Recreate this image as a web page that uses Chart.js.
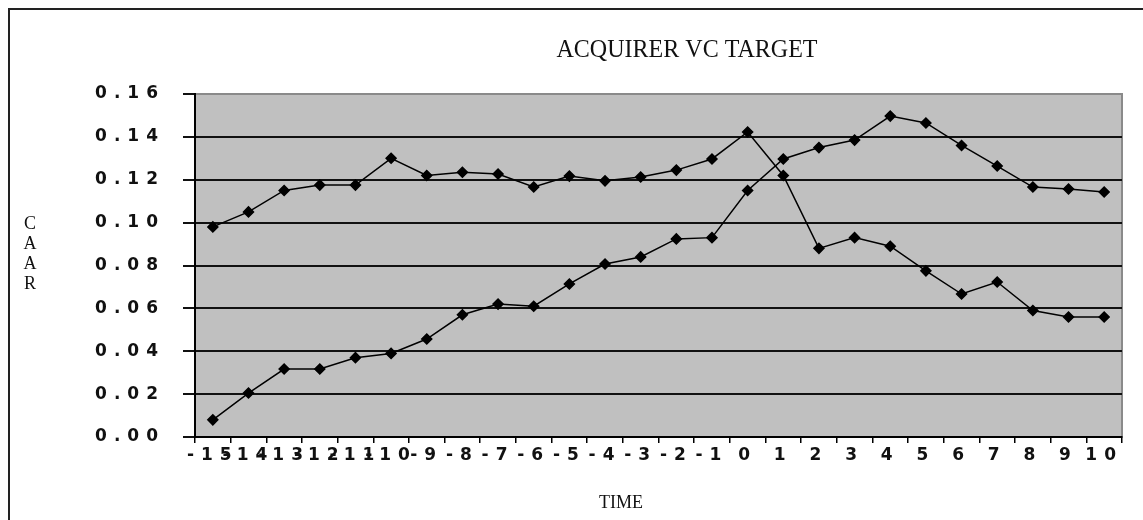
<!DOCTYPE html>
<html>
<head>
<meta charset="utf-8">
<script src="https://cdn.jsdelivr.net/npm/chart.js@4.4.1/dist/chart.umd.min.js"></script>
<style>
  body { margin: 0; background: #fff; }
  #wrap { position: relative; width: 1143px; height: 520px; }
  #frame { position: absolute; left: 8px; top: 8px; right: -4px; bottom: -4px;
           border-top: 2px solid #222; border-left: 2px solid #222; pointer-events: none; }
</style>
</head>
<body>
<div id="wrap">
  <canvas id="caarChart"></canvas>
  <div id="frame"></div>
</div>
<script>
// event window, days around announcement
const times = ['-15', '-14', '-13', '-12', '-11', '-10', '-9', '-8', '-7', '-6', '-5', '-4', '-3',
               '-2', '-1', '0', '1', '2', '3', '4', '5', '6', '7', '8', '9', '10'];

// CAAR, acquirer (starts high, drops after day 0)
const acquirer = [0.098, 0.105, 0.115, 0.1175, 0.1175, 0.130, 0.122, 0.1235, 0.1227, 0.1166,
                  0.1217, 0.1195, 0.1213, 0.1245, 0.1297, 0.1423, 0.122, 0.088, 0.093, 0.089,
                  0.0775, 0.0667, 0.0723, 0.059, 0.056, 0.056];

// CAAR, target (rises through the window)
const target = [0.008, 0.0205, 0.0317, 0.0317, 0.037, 0.039, 0.0457, 0.057, 0.062, 0.061,
                0.0714, 0.0807, 0.084, 0.0924, 0.093, 0.115, 0.1297, 0.135, 0.1385, 0.1497,
                0.1465, 0.136, 0.1264, 0.1166, 0.1157, 0.1143];

const yMin = 0;
const yMax = 0.16;
const yStep = 0.02;

const tickFont = { family: 'DejaVu Sans', size: 17, weight: 'bold' };
const spacing = '7px';

const plotBg = {
  id: 'plotBg',
  beforeDraw(chart) {
    const ctx = chart.ctx;
    const a = chart.chartArea;
    ctx.save();
    ctx.fillStyle = '#fff';
    ctx.fillRect(0, 0, chart.width, chart.height);
    ctx.fillStyle = '#c0c0c0';
    ctx.fillRect(a.left, a.top, a.right - a.left, a.bottom - a.top);
    ctx.strokeStyle = '#8a8a8a';
    ctx.lineWidth = 2;
    ctx.strokeRect(a.left, a.top, a.right - a.left, a.bottom - a.top);
    ctx.restore();
    // wide spaced tick digits like the old spreadsheet export
    ctx.letterSpacing = spacing;
  },
  afterDraw(chart) {
    const ctx = chart.ctx;
    ctx.save();
    ctx.letterSpacing = '0px';
    ctx.fillStyle = '#111';
    ctx.textAlign = 'center';
    ctx.textBaseline = 'alphabetic';
    ctx.font = '26px "Liberation Serif"';
    ctx.fillText('ACQUIRER VC TARGET', 687, 57, 261);
    ctx.font = '18px "Liberation Serif"';
    ctx.fillText('TIME', 621, 508);
    ctx.textBaseline = 'middle';
    ['C', 'A', 'A', 'R'].forEach((ch, i) => ctx.fillText(ch, 30, 224 + i * 20));
    ctx.restore();
    ctx.letterSpacing = spacing;
  }
};

const config = {
  type: 'line',
  data: {
    labels: times,
    datasets: [
      {
        label: 'Acquirer',
        data: acquirer,
        borderColor: '#000',
        backgroundColor: '#000',
        borderWidth: 1.5,
        pointStyle: 'rectRot',
        pointRadius: 5,
        tension: 0
      },
      {
        label: 'Target',
        data: target,
        borderColor: '#000',
        backgroundColor: '#000',
        borderWidth: 1.5,
        pointStyle: 'rectRot',
        pointRadius: 5,
        tension: 0
      }
    ]
  },
  options: {
    responsive: true,
    maintainAspectRatio: false,
    animation: false,
    layout: { padding: { top: 94, right: 21, bottom: 0, left: 0 } },
    plugins: {
      legend: { display: false },
      title: { display: false },
      tooltip: { enabled: false }
    },
    scales: {
      x: {
        offset: true,
        grid: {
          display: true,
          offset: true,
          drawOnChartArea: false,
          tickLength: 6,
          color: '#000',
          lineWidth: 1.5
        },
        border: { color: '#000', width: 2 },
        ticks: {
          autoSkip: false,
          maxRotation: 0,
          minRotation: 0,
          padding: 2,
          color: '#111',
          font: tickFont
        },
        afterFit(scale) { scale.height = 83; }
      },
      y: {
        min: yMin,
        max: yMax,
        grid: {
          color: ctx => (ctx.tick && ctx.tick.value >= yMax - 1e-9 ? '#8a8a8a' : '#111'),
          lineWidth: 2,
          tickLength: 12,
          tickColor: '#111'
        },
        border: { color: '#000', width: 2 },
        ticks: {
          stepSize: yStep,
          padding: 18,
          color: '#111',
          font: tickFont,
          callback: v => v.toFixed(2)
        },
        afterFit(scale) { scale.width = 195; }
      }
    }
  },
  plugins: [plotBg]
};

new Chart(document.getElementById('caarChart'), config);
</script>
</body>
</html>
